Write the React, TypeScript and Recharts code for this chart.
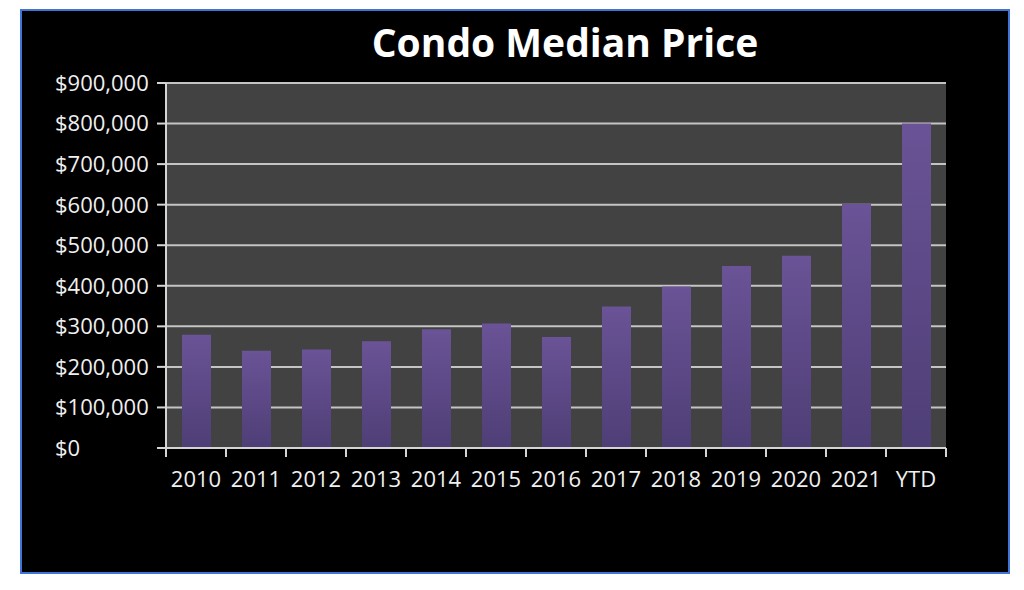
import React from "react";
import { BarChart, Bar, XAxis, YAxis, CartesianGrid } from "recharts";

const years = ["2010", "2011", "2012", "2013", "2014", "2015", "2016", "2017", "2018", "2019", "2020", "2021", "YTD"];
const medianPrice = [279000, 240000, 243000, 263000, 293000, 307000, 274000, 349000, 398000, 449000, 474000, 602000, 800000];
const priceTicks = [0, 100000, 200000, 300000, 400000, 500000, 600000, 700000, 800000, 900000];

const data = years.map((year, i) => ({ year, price: medianPrice[i] }));

const CHART_W = 986;
const CHART_H = 561;
const MARGIN = { top: 72, right: 62, left: 0, bottom: 84 };
const Y_AXIS_W = 144;
const PLOT_W = CHART_W - MARGIN.left - MARGIN.right - Y_AXIS_W;
const BAND = PLOT_W / years.length;
const Y_LABEL_LEFT = 33;

const FONT = "'Open Sans', 'DejaVu Sans', sans-serif";
const AXIS_COLOR = "#d4d4d4";
const TEXT_COLOR = "#f0f0f0";

const formatPrice = (v: number) => "$" + v.toLocaleString("en-US");

const YearTick = (props: any) => {
  const { x, y, payload, index } = props;
  const axisY = y - 9;
  return (
    <g>
      <line x1={x - BAND / 2} x2={x - BAND / 2} y1={axisY} y2={y} stroke={AXIS_COLOR} strokeWidth={2} />
      {index === years.length - 1 && (
        <line x1={x + BAND / 2} x2={x + BAND / 2} y1={axisY} y2={y} stroke={AXIS_COLOR} strokeWidth={2} />
      )}
      <text x={x} y={y + 30} textAnchor="middle" fill={TEXT_COLOR} fontSize={22} fontFamily={FONT}>
        {payload.value}
      </text>
    </g>
  );
};

const PriceTick = (props: any) => {
  const { y, payload } = props;
  return (
    <text x={Y_LABEL_LEFT} y={y} dy="0.36em" textAnchor="start" fill={TEXT_COLOR} fontSize={22} fontFamily={FONT}>
      {formatPrice(payload.value)}
    </text>
  );
};

export default function App() {
  return (
    <div
      style={{
        position: "relative",
        marginLeft: 12,
        marginTop: 1,
        width: 990,
        height: 565,
        boxSizing: "border-box",
        border: "2px solid #3f74d8",
        background: "#000",
      }}
    >
      <div
        style={{
          position: "absolute",
          left: 293,
          top: 11,
          width: 500,
          textAlign: "center",
          color: "#fff",
          fontFamily: FONT,
          fontWeight: 700,
          fontSize: 39,
          lineHeight: "39px",
        }}
      >
        Condo Median Price
      </div>
      <BarChart width={CHART_W} height={CHART_H} data={data} margin={MARGIN} barCategoryGap="25%">
        <defs>
          <linearGradient id="barFill" x1="0" y1="0" x2="0" y2="1">
            <stop offset="0%" stopColor="#6a5396" />
            <stop offset="100%" stopColor="#4e3e76" />
          </linearGradient>
        </defs>
        <CartesianGrid vertical={false} fill="#424242" stroke="#c4c4c4" strokeWidth={2} />
        <XAxis
          dataKey="year"
          tick={<YearTick />}
          tickLine={false}
          tickSize={9}
          tickMargin={0}
          axisLine={{ stroke: AXIS_COLOR, strokeWidth: 2 }}
          interval={0}
          height={40}
        />
        <YAxis
          width={Y_AXIS_W}
          domain={[0, 900000]}
          ticks={priceTicks}
          tick={<PriceTick />}
          tickLine={{ stroke: AXIS_COLOR, strokeWidth: 2 }}
          tickSize={9}
          tickMargin={5}
          axisLine={{ stroke: AXIS_COLOR, strokeWidth: 2 }}
          interval={0}
        />
        <Bar dataKey="price" fill="url(#barFill)" barSize={29} isAnimationActive={false} />
      </BarChart>
    </div>
  );
}
